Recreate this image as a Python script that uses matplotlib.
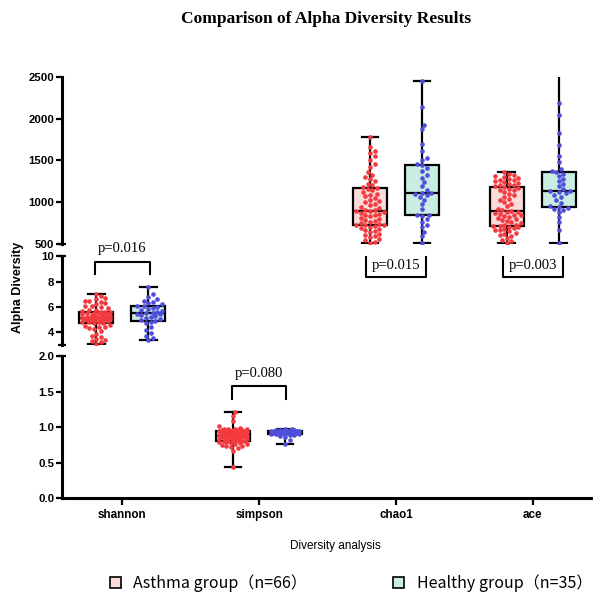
import numpy as np
import matplotlib.pyplot as plt
from matplotlib.patches import Rectangle
from matplotlib.transforms import blended_transform_factory

categories = ["shannon", "simpson", "chao1", "ace"]
groups = ["Asthma group（n=66）", "Healthy group（n=35）"]
p_values = ["p=0.016", "p=0.080", "p=0.015", "p=0.003"]

shannon_asthma = [3.05, 3.2, 3.3, 3.4, 3.5, 3.6, 3.75, 3.9, 4.1, 4.25, 4.35, 4.4, 4.45, 4.5, 4.6, 4.7,
                  4.76, 4.8,
                  4.82, 4.85, 4.9, 4.92, 4.95, 4.98, 5.0, 5.02, 5.04, 5.05, 5.06, 5.08, 5.09, 5.1, 5.1, 5.12,
                  5.15, 5.2, 5.22, 5.25, 5.3, 5.32, 5.35, 5.4, 5.42, 5.45, 5.5, 5.52, 5.55, 5.58, 5.6, 5.63,
                  5.7, 5.75, 5.8, 5.9, 6.0, 6.05, 6.1, 6.2, 6.3, 6.4, 6.45, 6.5, 6.6, 6.7, 6.85, 7.0]
shannon_healthy = [3.4, 3.55, 3.75, 3.95, 4.2, 4.45, 4.7, 4.85, 4.9, 4.94,
                   5.05, 5.15, 5.25, 5.3, 5.38, 5.42, 5.47, 5.5,
                   5.55, 5.62, 5.7, 5.78, 5.85, 5.95, 6.02, 6.08, 6.12,
                   6.2, 6.3, 6.4, 6.5, 6.6, 6.8, 7.0, 7.6]
simpson_asthma = [0.44, 0.66, 0.70, 0.72, 0.73, 0.74, 0.75, 0.76, 0.77, 0.78, 0.78, 0.79, 0.79, 0.80, 0.80, 0.81,
                  0.81, 0.81,
                  0.82, 0.82, 0.83, 0.83, 0.84, 0.84, 0.85, 0.85, 0.86, 0.86, 0.87, 0.87, 0.87, 0.88, 0.88, 0.88,
                  0.89, 0.89, 0.90, 0.90, 0.91, 0.91, 0.91, 0.92, 0.92, 0.92, 0.93, 0.93, 0.93, 0.94, 0.94, 0.945,
                  0.95, 0.95, 0.95, 0.96, 0.96, 0.96, 0.96, 0.97, 0.97, 0.97, 0.98, 0.99, 1.02, 1.08, 1.15, 1.21]
simpson_healthy = [0.77, 0.82, 0.86, 0.88, 0.89, 0.89, 0.90, 0.90, 0.90, 0.91, 0.91, 0.91,
                   0.92, 0.92, 0.92, 0.92, 0.93, 0.93, 0.93, 0.93, 0.94, 0.94, 0.94, 0.94,
                   0.95, 0.95, 0.95, 0.95, 0.95, 0.96, 0.96, 0.96, 0.96, 0.97, 0.97]
chao1_asthma = [505, 520, 540, 560, 575, 590, 600, 620, 640, 650, 660, 680, 690, 700, 710, 720,
                725, 730,
                740, 750, 760, 775, 790, 800, 810, 830, 840, 850, 860, 870, 880, 890, 895, 900,
                910, 925, 940, 960, 980, 1000, 1010, 1030, 1050, 1070, 1090, 1100, 1120, 1140, 1160, 1170,
                1180, 1200, 1220, 1250, 1280, 1300, 1330, 1360, 1420, 1460, 1510, 1550, 1590, 1620, 1660, 1779]
chao1_healthy = [510, 590, 640, 700, 720, 760, 800, 830, 840, 850,
                 920, 980, 1030, 1060, 1080, 1095, 1105, 1113,
                 1140, 1190, 1240, 1290, 1330, 1370, 1410, 1440, 1452,
                 1500, 1530, 1620, 1700, 1880, 1930, 2140, 2459]
ace_asthma = [510, 530, 550, 570, 590, 600, 620, 630, 650, 660, 670, 680, 690, 700, 705, 712,
              716, 720,
              730, 745, 760, 770, 780, 800, 810, 820, 830, 840, 850, 860, 870, 880, 885, 893,
              900, 920, 950, 980, 1000, 1020, 1040, 1060, 1080, 1100, 1120, 1140, 1150, 1160, 1170, 1180,
              1190, 1200, 1210, 1220, 1230, 1240, 1250, 1260, 1270, 1280, 1290, 1300, 1310, 1320, 1340, 1365]
ace_healthy = [510, 660, 760, 820, 880, 900, 920, 935, 942, 948,
               990, 1030, 1060, 1085, 1105, 1120, 1130, 1137,
               1160, 1190, 1220, 1250, 1280, 1310, 1340, 1360, 1370,
               1400, 1550, 1690, 1830, 2050, 2187, 1480, 2620]

fill_colors = ["#fcdada", "#c9ede2"]
dot_colors = ["#f23a3f", "#4f4fdc"]
serif = "Liberation Serif"
sans = "Liberation Sans"

W, H = 593, 597
fig = plt.figure(figsize=(W / 100, H / 100), dpi=100)
left, right = 62, 593
xlim = (-0.44, 3.44)

# y ranges in pixel rows of the figure: (top_px, bottom_px, ylim)
segments = [(77.3, 243.7, (500, 2500)), (256.4, 345.0, (3, 10)), (356.0, 498.3, (0, 2))]
axes = []
for top, bot, yl in segments:
    ax = fig.add_axes([left / W, 1 - bot / H, (right - left) / W, (bot - top) / H])
    ax.set_xlim(*xlim)
    ax.set_ylim(*yl)
    for s in ["top", "right"]:
        ax.spines[s].set_visible(False)
    ax.spines["left"].set_linewidth(2.2)
    ax.spines["bottom"].set_linewidth(2.2)
    ax.tick_params(axis="y", direction="out", length=4, width=1.6, labelsize=8.2, pad=1.5)
    ax.patch.set_alpha(0)
    axes.append(ax)

ax_top, ax_mid, ax_bot = axes
ax_top.set_yticks([500, 1000, 1500, 2000, 2500])
ax_mid.set_yticks([4, 6, 8, 10])
ax_bot.set_yticks([0.0, 0.5, 1.0, 1.5, 2.0])
ax_bot.set_yticklabels(["0.0", "0.5", "1.0", "1.5", "2.0"])
for ax in (ax_top, ax_mid):
    ax.spines["bottom"].set_visible(False)
    ax.set_xticks([])
for ax in axes:
    for lab in ax.get_yticklabels():
        lab.set_fontfamily(sans)
        lab.set_fontweight("bold")

ax_bot.set_xticks(range(len(categories)))
ax_bot.set_xticklabels(categories, fontfamily=sans, fontweight="bold", fontsize=8.4)
ax_bot.tick_params(axis="x", direction="out", length=5, width=1.6, pad=3)

# break caps at the segment ends
for ax, ends in ((ax_top, [0]), (ax_mid, [0, 1]), (ax_bot, [1])):
    for e in ends:
        ax.plot([-0.008, 0.008], [e, e], transform=ax.transAxes, color="black",
                lw=1.6, clip_on=False, solid_capstyle="butt")


def swarm(vals, ax, d=4.6, maxw=16):
    bb = ax.get_position()
    y0, y1 = ax.get_ylim()
    ypx = bb.height * H / (y1 - y0)
    xpx = bb.width * W / (xlim[1] - xlim[0])
    vals = np.asarray(vals, dtype=float)
    order = np.argsort(vals)
    placed = []
    xs = np.zeros(len(vals))
    cands = [0.0]
    k = 1
    while k * d / 2 <= maxw:
        cands += [k * d / 2, -k * d / 2]
        k += 1
    for i in order:
        y = vals[i] * ypx
        best, bestd = 0.0, -1
        for c in cands:
            if placed:
                pts = np.array(placed)
                md = np.min(np.hypot(pts[:, 0] - c, pts[:, 1] - y))
            else:
                md = np.inf
            if md >= d:
                best = c
                break
            if md > bestd:
                best, bestd = c, md
        placed.append((best, y))
        xs[i] = best / xpx
    return xs


series = [(ax_mid, 0, [shannon_asthma, shannon_healthy]),
          (ax_bot, 1, [simpson_asthma, simpson_healthy]),
          (ax_top, 2, [chao1_asthma, chao1_healthy]),
          (ax_top, 3, [ace_asthma, ace_healthy])]
offset, bw = 0.19, 0.245
for ax, ci, data in series:
    for gi, vals in enumerate(data):
        pos = ci + (-offset if gi == 0 else offset)
        ax.boxplot([vals], positions=[pos], widths=bw, whis=(0, 100), patch_artist=True,
                   showfliers=False, capwidths=bw * 0.5, manage_ticks=False,
                   boxprops=dict(facecolor=fill_colors[gi], edgecolor="black", linewidth=1.6),
                   medianprops=dict(color="black", linewidth=1.6),
                   whiskerprops=dict(color="black", linewidth=1.6),
                   capprops=dict(color="black", linewidth=1.6))
        xs = swarm(vals, ax)
        ax.scatter(pos + xs, vals, s=11, color=dot_colors[gi], zorder=3, linewidths=0)

# significance brackets
lw = 1.5
tr_mid = blended_transform_factory(ax_mid.transData, fig.transFigure)
fy = lambda p: 1 - p / H
for ci, (yh, yv, yt) in ((0, (261.7, 274, 249)), (1, (385.7, 399, 373))):
    x0, x1 = ci - 0.2, ci + 0.2
    fig.add_artist(plt.Line2D([x0, x0, x1, x1], [fy(yv), fy(yh), fy(yh), fy(yv)],
                              transform=tr_mid, color="black", lw=lw))
    fig.text(ci, fy(yt), p_values[ci], transform=tr_mid, ha="center", va="center",
             fontfamily=serif, fontsize=10.5)
for ci in (2, 3):
    x0, x1 = ci - 0.22, ci + 0.22
    fig.add_artist(plt.Line2D([x0, x0, x1, x1], [fy(256.7), fy(276.7), fy(276.7), fy(256.7)],
                              transform=tr_mid, color="black", lw=lw))
    fig.text(ci, fy(265), p_values[ci], transform=tr_mid, ha="center", va="center",
             fontfamily=serif, fontsize=10.5)

fig.text(0.55, fy(19), "Comparison of Alpha Diversity Results", ha="center", va="center",
         fontfamily=serif, fontweight="bold", fontsize=12.5)
fig.text(0.03, fy(287), "Alpha Diversity", rotation=90, ha="center", va="center",
         fontfamily=sans, fontweight="bold", fontsize=9)
fig.text(335 / W, fy(546), "Diversity analysis", ha="center", va="center",
         fontfamily=sans, fontsize=8.5)

# legend
for gi, (px, tx) in enumerate(((110, 133), (393, 417))):
    fig.add_artist(Rectangle((px / W, fy(588)), 11 / W, 11 / H, transform=fig.transFigure,
                             facecolor=fill_colors[gi], edgecolor="black", lw=1.2))
    fig.text(tx / W, fy(583), groups[gi], ha="left", va="center",
             fontfamily=["Noto Sans CJK SC", "DejaVu Sans"], fontsize=11.5)

fig.savefig("out.png", dpi=100)
